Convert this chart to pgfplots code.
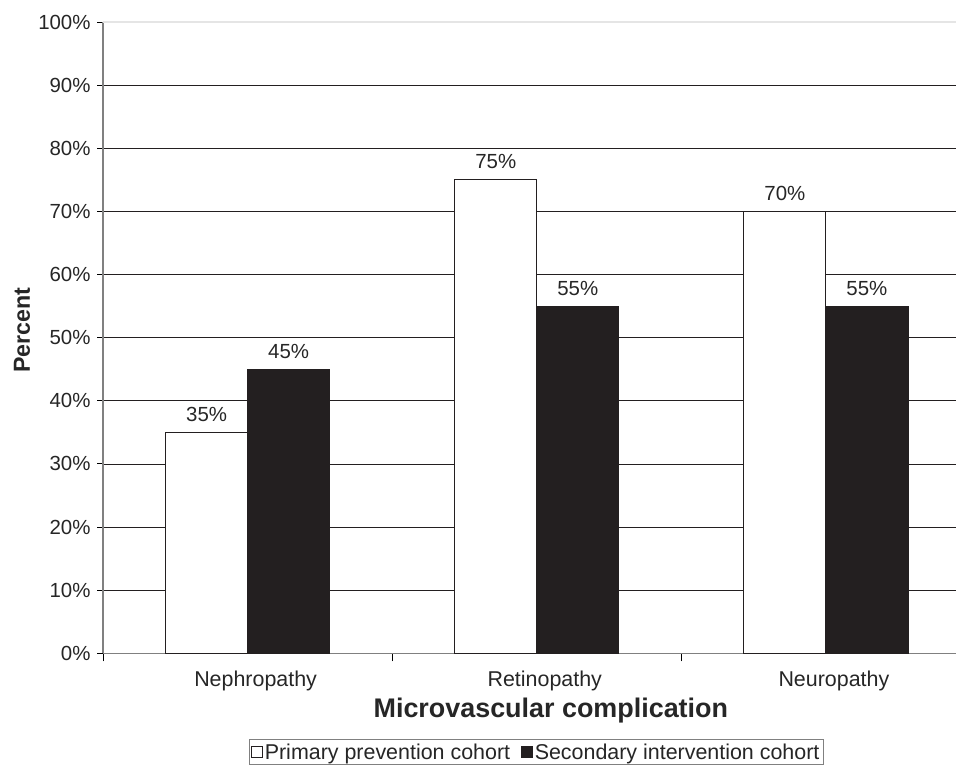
\documentclass[border=0pt]{standalone}
\usepackage{pgfplots}
\pgfplotsset{compat=1.18}
\usepackage{fontspec}
\setmainfont{Liberation Sans}
\definecolor{barblk}{HTML}{231F20}
\definecolor{axgray}{HTML}{808080}
\begin{document}
\begin{tikzpicture}
\begin{axis}[name=ax, x=289bp, y=6.31bp,
 xmin=-0.5, xmax=2.45, ymin=0, ymax=100,
 axis x line=bottom, axis y line=left,
 axis line style={axgray, line width=1.2bp, -},
 ybar=0pt, bar width=82bp,
 xtick={0,1,2}, xticklabels={Nephropathy,Retinopathy,Neuropathy},
 minor xtick={-0.5,0.5,1.5},
 ytick={0,10,...,100},
 yticklabel={\pgfmathprintnumber{\tick}\%},
 /pgf/number format/assume math mode=true,
 tick align=outside,
 major tick length=6bp, minor tick length=8bp,
 major x tick style={draw=none},
 tick style={black, line width=1bp},
 ymajorgrids, grid style={barblk, line width=0.8bp},
 yticklabel style={font=\fontsize{20.5}{24}\selectfont, text=black!85, xshift=-3bp},
 xticklabel style={font=\fontsize{21.5}{25}\selectfont, text=black!85, xshift=8bp, yshift=-8bp},
 xlabel={Microvascular complication},
 ylabel={Percent},
 xlabel style={font=\bfseries\fontsize{27}{32}\selectfont, text=black!85,
   at={(axis description cs:0.525,-0.1014)}, anchor=base},
 ylabel style={font=\bfseries\fontsize{23.3}{28}\selectfont, text=black!85,
   at={(axis description cs:-0.095,0.512)}, anchor=center},
 nodes near coords={\pgfmathprintnumber{\pgfplotspointmeta}\%},
 nodes near coords style={font=\fontsize{20.5}{24}\selectfont, text=black!85, yshift=7bp},
 legend columns=2,
 legend style={at={(0.508,0)}, anchor=north, yshift=-86bp, draw=axgray, line width=0.8bp,
   font=\fontsize{21.5}{25}\selectfont, text=black!85, inner sep=2bp,
   /tikz/every even column/.append style={column sep=9bp}},
 legend image code/.code={\draw[#1, line width=0.6bp] (0bp,-5.5bp) rectangle (11bp,5.5bp);},
 clip=false,
]
\addplot[fill=white, draw=barblk, line width=0.8bp] coordinates {(0,35) (1,75) (2,70)};
\addplot[fill=barblk, draw=barblk, line width=0.8bp] coordinates {(0,45) (1,55) (2,55)};
\legend{Primary prevention cohort, Secondary intervention cohort}
\draw[black!10, line width=1.5bp] (axis cs:-0.5,100) -- (axis cs:2.45,100);
\end{axis}
\pgfresetboundingbox
\path ([xshift=-103bp,yshift=-116bp]ax.south west) rectangle ([yshift=22bp]ax.north east);
\end{tikzpicture}
\end{document}
